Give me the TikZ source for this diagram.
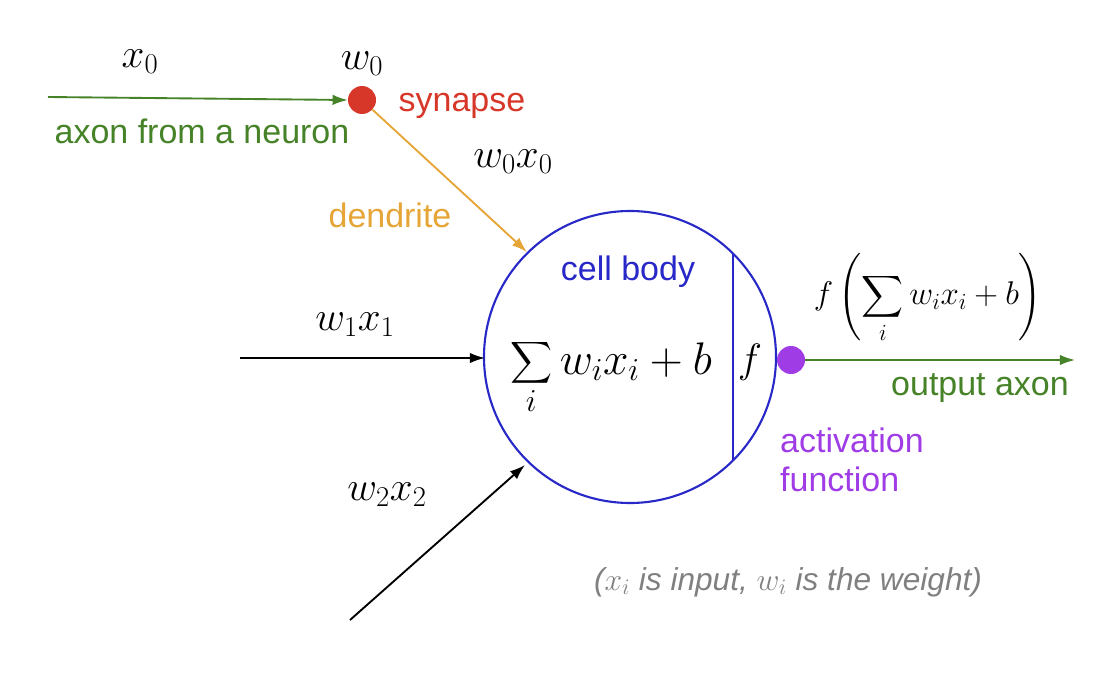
\RequirePackage{fix-cm}
\documentclass[tikz,border=0pt]{standalone}
\usepackage{amsmath}
\usepackage{fontspec}
\setmainfont{Liberation Sans}
\begin{document}
\begin{tikzpicture}[x=0.03cm,y=-0.03cm,
  lbl/.style={font=\fontsize{29}{33}\selectfont},
  mth/.style={font=\fontsize{35}{40}\selectfont},
  arr/.style={line width=1.6pt,-{Latex[length=13pt,width=9pt]}}]
\usetikzlibrary{arrows.meta}
\useasboundingbox (0,0) rectangle (1111,678);
\definecolor{gr}{RGB}{70,130,40}
\definecolor{rd}{RGB}{215,55,40}
\definecolor{og}{RGB}{230,165,55}
\definecolor{bl}{RGB}{40,40,200}
\definecolor{pu}{RGB}{160,60,230}
\node[draw=bl,line width=1.8pt,circle,minimum size=292*0.03cm] (c) at (630,357) {};
\coordinate (vt) at (733,254); \coordinate (vb) at (733,461);
\draw[bl,line width=1.8pt] (vt) -- (vb);
\node[circle,fill=rd,minimum size=28*0.03cm,inner sep=0] (syn) at (362,100) {};
\node[circle,fill=pu,minimum size=28*0.03cm,inner sep=0] (act) at (791,360) {};
\coordinate (a0) at (48,97);
\draw[arr,gr] (a0) -- (syn.west);
\coordinate (dend) at (527,252);
\draw[arr,og] (syn) -- (dend);
\coordinate (i1) at (240,358); \coordinate (e1) at (485,358);
\draw[arr] (i1) -- (e1);
\coordinate (i2) at (350,620); \coordinate (e2) at (525,465);
\draw[arr] (i2) -- (e2);
\coordinate (o) at (1075,360);
\draw[arr,gr] (act.east) -- (o);
\node[mth] (x0) at (140,62) {$x_0$};
\node[mth] (w0) at (362,64) {$w_0$};
\node[lbl,rd] (ts) at (462,106) {synapse};
\node[lbl,gr] (ta) at (202,131) {axon from a neuron};
\node[mth] (wx0) at (513,162) {$w_0x_0$};
\node[lbl,og] (td) at (390,215) {dendrite};
\node[lbl,bl] (tc) at (628,272) {cell body};
\node[font=\fontsize{39}{44}\selectfont] (sum) at (611,377) {$\displaystyle\sum_i w_ix_i+b$};
\node[mth] (f) at (750,362) {$f$};
\node[font=\fontsize{28}{32}\selectfont] (fs) at (928,298) {$\displaystyle f\left(\sum_i w_ix_i+b\right)$};
\node[mth] (wx1) at (355,325) {$w_1x_1$};
\node[lbl,gr] (to) at (980,388) {output axon};
\node[lbl,pu,align=left] (tf) at (852,460) {activation\\function};
\node[mth] (wx2) at (387,495) {$w_2x_2$};
\node[lbl,gray,font=\fontsize{27}{30}\selectfont\itshape] (cap) at (788,582) {($x_i$ is input, $w_i$ is the weight)};
\end{tikzpicture}
\end{document}
